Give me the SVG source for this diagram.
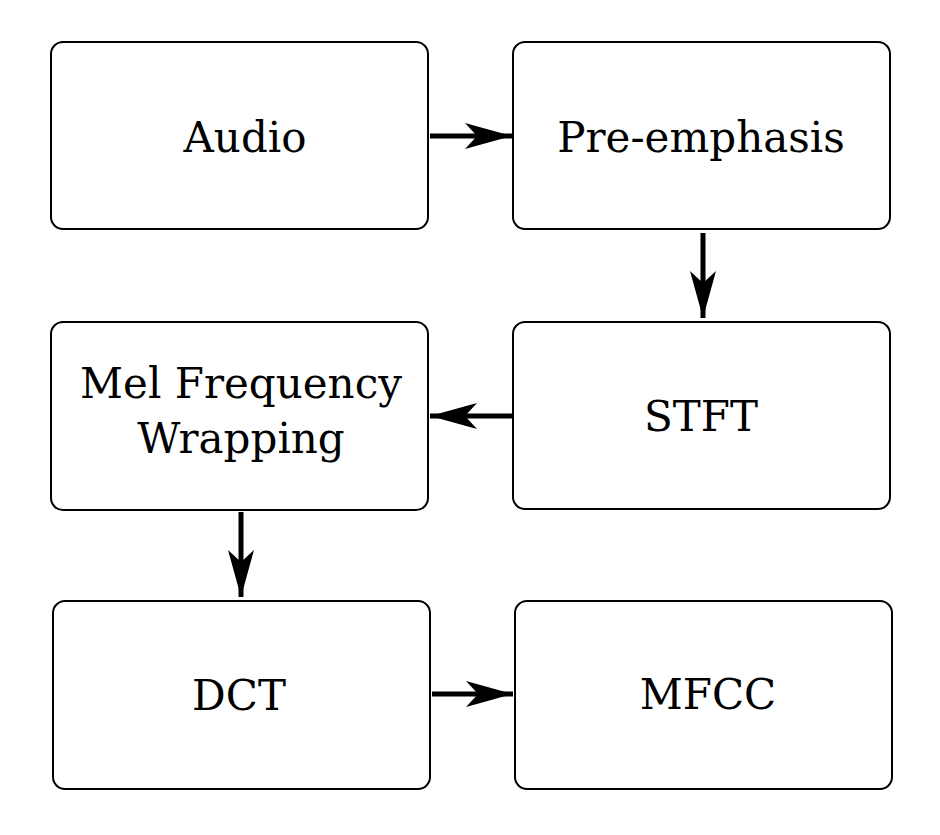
<svg xmlns="http://www.w3.org/2000/svg" width="940" height="835" viewBox="0 0 940 835">
<style>
.box{fill:#fff;stroke:#000;stroke-width:2}
.lbl{font-family:"DejaVu Serif",serif;font-size:42px;fill:#000;text-anchor:middle}
.edge{stroke:#000;stroke-width:5;fill:none}
</style>
<defs>
<marker id="ah" markerUnits="userSpaceOnUse" viewBox="0 0 48 28" refX="47" refY="14" markerWidth="48" markerHeight="28" orient="auto">
<path d="M0,1 L47,14 L0,27 L12,14 Z" fill="#000"/>
</marker>
</defs>
<rect width="940" height="835" fill="#fff"/>
<g id="audio"><rect class="box" x="51" y="42" width="377" height="187" rx="12"/><text class="lbl" x="245" y="152">Audio</text></g>
<g id="preemphasis"><rect class="box" x="513" y="42" width="377" height="187" rx="12"/><text class="lbl" x="701" y="152">Pre-emphasis</text></g>
<g id="stft"><rect class="box" x="513" y="322" width="377" height="187" rx="12"/><text class="lbl" x="701" y="431">STFT</text></g>
<g id="mel"><rect class="box" x="51" y="322" width="377" height="188" rx="12"/><text class="lbl" x="241" y="398">Mel Frequency</text><text class="lbl" x="241" y="453">Wrapping</text></g>
<g id="dct"><rect class="box" x="53" y="601" width="377" height="188" rx="12"/><text class="lbl" x="239" y="710">DCT</text></g>
<g id="mfcc"><rect class="box" x="515" y="601" width="377" height="188" rx="12"/><text class="lbl" x="708" y="709">MFCC</text></g>
<g id="connectors">
<path class="edge" d="M430,136 L512,136" marker-end="url(#ah)"/>
<path class="edge" d="M703,233 L703,318" marker-end="url(#ah)"/>
<path class="edge" d="M513,416 L430,416" marker-end="url(#ah)"/>
<path class="edge" d="M241,512 L241,597" marker-end="url(#ah)"/>
<path class="edge" d="M432,694 L513,694" marker-end="url(#ah)"/>
</g>
</svg>
